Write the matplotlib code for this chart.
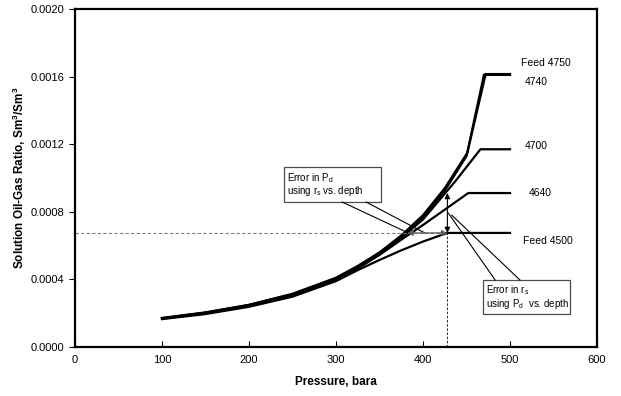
import matplotlib.pyplot as plt
from matplotlib.patches import Rectangle

plt.rcParams['font.family'] = ['Liberation Sans', 'DejaVu Sans']

# Solution oil-gas ratio vs pressure for each feed depth
p_4750 = [100, 150, 200, 250, 300, 325, 350, 375, 400, 425, 451, 472, 500]
rs_4750 = [0.000172, 0.000205, 0.000250, 0.000315, 0.000410, 0.000480, 0.000560,
           0.000660, 0.000780, 0.000940, 0.001150, 0.001615, 0.001615]

p_4740 = [100, 150, 200, 250, 300, 325, 350, 375, 400, 425, 450, 470, 500]
rs_4740 = [0.000170, 0.000203, 0.000248, 0.000312, 0.000405, 0.000474, 0.000553,
           0.000652, 0.000770, 0.000925, 0.001130, 0.001610, 0.001610]

p_4700 = [100, 150, 200, 250, 300, 325, 350, 375, 400, 437, 466, 500]
rs_4700 = [0.000170, 0.000202, 0.000247, 0.000310, 0.000402, 0.000470, 0.000548,
           0.000645, 0.000755, 0.000980, 0.001170, 0.001170]

p_4640 = [100, 150, 200, 250, 300, 325, 350, 375, 400, 452, 500]
rs_4640 = [0.000168, 0.000200, 0.000245, 0.000305, 0.000400, 0.000465, 0.000545,
           0.000635, 0.000722, 0.000911, 0.000911]

p_4500 = [100, 150, 200, 250, 300, 325, 350, 375, 400, 428, 500]
rs_4500 = [0.000165, 0.000195, 0.000238, 0.000298, 0.000390, 0.000455, 0.000515,
           0.000572, 0.000624, 0.000675, 0.000675]

curves = [(p_4750, rs_4750), (p_4740, rs_4740), (p_4700, rs_4700),
          (p_4640, rs_4640), (p_4500, rs_4500)]

# end labels: text, x, y
end_labels = [('Feed 4750', 513, 0.00168), ('4740', 517, 0.00157),
              ('4700', 517, 0.00119), ('4640', 522, 0.00091),
              ('Feed 4500', 515, 0.00063)]

rs_ref = 0.000675     # reference Rs level
pd_ref = 428          # dew point from Rs vs depth
p_cross = 382         # where Rs level crosses the feed curve
rs_upper = 0.000911

fig = plt.figure(figsize=(6.21, 3.96), dpi=100)
ax = fig.add_axes([0.1208, 0.1237, 0.8406, 0.8536])

for p, rs in curves:
    ax.plot(p, rs, color='black', lw=1.6, solid_joinstyle='miter')

for txt, x, y in end_labels:
    ax.text(x, y, txt, fontsize=7.5, va='center', ha='left')

# guide lines
ax.plot([0, pd_ref], [rs_ref, rs_ref], color='0.5', lw=0.8, ls=(0, (3, 2)))
ax.plot([pd_ref, pd_ref], [0, rs_ref], color='black', lw=0.6, ls=(0, (3, 2)))

# error arrows
ax.annotate('', xy=(p_cross, rs_ref), xytext=(pd_ref, rs_ref),
            arrowprops=dict(arrowstyle='<|-|>', color='0.35', lw=0.9,
                            mutation_scale=8, shrinkA=0, shrinkB=0))
ax.annotate('', xy=(pd_ref, rs_upper), xytext=(pd_ref, rs_ref),
            arrowprops=dict(arrowstyle='<|-|>', color='black', lw=0.8,
                            mutation_scale=8, shrinkA=0, shrinkB=0))

# callout boxes
ax.add_patch(Rectangle((240, 0.000858), 112, 0.000207, fill=False,
                       edgecolor='0.3', lw=0.9))
ax.text(244, 0.00100, 'Error in P$_\\mathregular{d}$', fontsize=7, va='center')
ax.text(244, 0.000925, 'using r$_\\mathregular{s}$ vs. depth', fontsize=7, va='center')
ax.plot([307, 383], [0.000858, rs_ref], color='black', lw=0.8)
ax.plot([334.5, 402], [0.000858, rs_ref], color='black', lw=0.8)

ax.add_patch(Rectangle((469, 0.000195), 100, 0.000201, fill=False,
                       edgecolor='0.3', lw=0.9))
ax.text(472, 0.000337, 'Error in r$_\\mathregular{s}$', fontsize=7, va='center')
ax.text(472, 0.000254, 'using P$_\\mathregular{d}$  vs. depth', fontsize=7, va='center')
ax.plot([483, 429], [0.000396, 0.000793], color='black', lw=0.8)
ax.plot([511.5, 433], [0.000396, 0.00078], color='black', lw=0.8)

ax.set_xlim(0, 600)
ax.set_ylim(0, 0.002)
ax.set_xticks(range(0, 601, 100))
ax.set_yticks([0, 0.0004, 0.0008, 0.0012, 0.0016, 0.0020])
ax.set_yticklabels(['0.0000', '0.0004', '0.0008', '0.0012', '0.0016', '0.0020'])
ax.tick_params(axis='x', direction='in', length=4, labelsize=8, pad=6)
ax.tick_params(axis='y', direction='out', length=4, labelsize=8)
for s in ax.spines.values():
    s.set_linewidth(1.6)

ax.set_xlabel('Pressure, bara', fontsize=8.5, fontweight='bold', labelpad=8)
ax.set_ylabel('Solution Oil-Gas Ratio, Sm$^\\mathregular{3}$/Sm$^\\mathregular{3}$',
              fontsize=8.5, fontweight='bold', labelpad=2)

fig.savefig('out.png', dpi=100)
